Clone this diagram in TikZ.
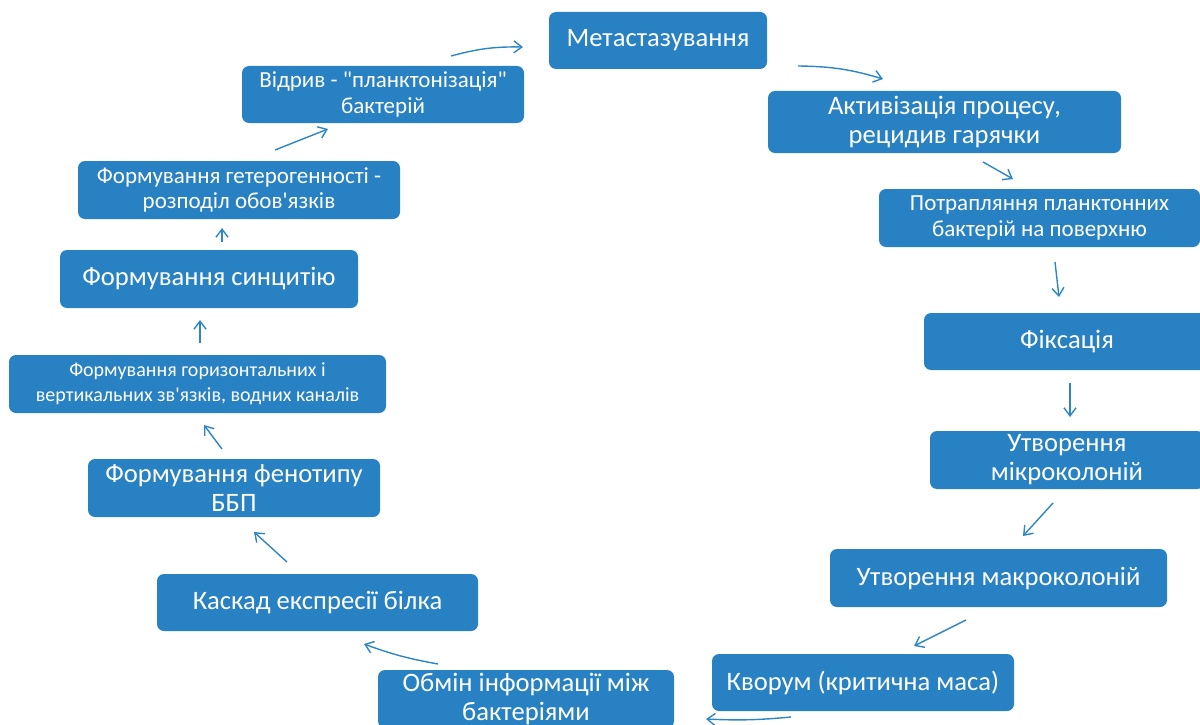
\documentclass[tikz,border=0pt]{standalone}
\usepackage{fontspec}
\setmainfont{Carlito}
\usetikzlibrary{arrows.meta}
\definecolor{bfblue}{RGB}{39,129,194}
\definecolor{bfarrow}{RGB}{44,133,197}

\begin{document}
\begin{tikzpicture}[x=1pt,y=-1pt,
    stage/.style={fill=bfblue,text=white,rounded corners=7pt,align=center,inner sep=0pt,
      font=\fontsize{26.6}{29}\selectfont},
    stagemd/.style={stage,font=\fontsize{23}{25.5}\selectfont},
    stagesm/.style={stage,font=\fontsize{20}{25}\selectfont},
    flow/.style={draw=bfarrow,line width=1.4pt,-{Straight Barb[length=8pt,width=12pt]}}]
  \useasboundingbox (0,0) rectangle (1200,725);
  % stages of the cycle
  \node[stage,minimum width=218pt,minimum height=57pt] (meta) at (658,40.5) {Метастазування};
  \node[stage,minimum width=353pt,minimum height=62pt] (activ) at (944.5,122) {Активізація процесу,\\рецидив гарячки};
  \node[stagemd,minimum width=321pt,minimum height=58pt] (contact) at (1039.5,218) {Потрапляння планктонних\\бактерій на поверхню};
  \node[stage,minimum width=286pt,minimum height=57pt] (fix) at (1067,341.5) {Фіксація};
  \node[stage,minimum width=274pt,minimum height=58pt] (micro) at (1067,460) {Утворення\\мікроколоній};
  \node[stage,minimum width=337pt,minimum height=58pt] (macro) at (998.5,578) {Утворення макроколоній};
  \node[stage,minimum width=302pt,minimum height=57pt] (quorum) at (863,682.5) {Кворум (критична маса)};
  \node[stage,minimum width=296pt,minimum height=58pt] (exch) at (526,699) {Обмін інформації між\\бактеріями};
  \node[stage,minimum width=321pt,minimum height=57pt] (cascade) at (317.5,602.5) {Каскад експресії білка};
  \node[stage,minimum width=292pt,minimum height=58pt] (pheno) at (234,488) {Формування фенотипу\\ББП};
  \node[stagesm,minimum width=377pt,minimum height=58pt] (channels) at (197.5,384) {Формування горизонтальних і\\вертикальних зв\textquotesingle язків, водних каналів};
  \node[stage,minimum width=298pt,minimum height=58pt] (syncyt) at (209,279) {Формування синцитію};
  \node[stagemd,minimum width=322pt,minimum height=58pt] (hetero) at (239,190) {Формування гетерогенності -\\розподіл обов\textquotesingle язків};
  \node[stagemd,minimum width=282pt,minimum height=57pt] (detach) at (383,94.5) {Відрив - \textquotedbl планктонізація\textquotedbl\\бактерій};
  % arrow ends (the arrows float between the boxes)
  \coordinate (s1) at (451,56);  \coordinate (e1) at (523,47);
  \coordinate (s2) at (798,66);  \coordinate (e2) at (883,79);
  \coordinate (s3) at (983,162); \coordinate (e3) at (1013,179);
  \coordinate (s4) at (1055,262); \coordinate (e4) at (1059,297);
  \coordinate (s5) at (1070,383); \coordinate (e5) at (1070,417);
  \coordinate (s6) at (1053,503); \coordinate (e6) at (1023,536);
  \coordinate (s7) at (966,620); \coordinate (e7) at (914,646);
  \coordinate (s8) at (791,717); \coordinate (e8) at (706,719);
  \coordinate (s9) at (438,664); \coordinate (e9) at (364,644);
  \coordinate (s10) at (287,562); \coordinate (e10) at (254,532);
  \coordinate (s11) at (222,449); \coordinate (e11) at (204,425);
  \coordinate (s12) at (200,343); \coordinate (e12) at (200,320);
  \coordinate (s13) at (222,242); \coordinate (e13) at (222,228);
  \coordinate (s14) at (275,150); \coordinate (e14) at (328,129);
  \draw[flow] (s1) to[bend left=8] (e1);
  \draw[flow] (s2) to[bend left=8] (e2);
  \foreach \k in {3,...,7} {\draw[flow] (s\k) -- (e\k);}
  \draw[flow] (s8) to[bend left=4] (e8);
  \draw[flow] (s9) to[bend left=5] (e9);
  \foreach \k in {10,...,14} {\draw[flow] (s\k) -- (e\k);}
\end{tikzpicture}
\end{document}
